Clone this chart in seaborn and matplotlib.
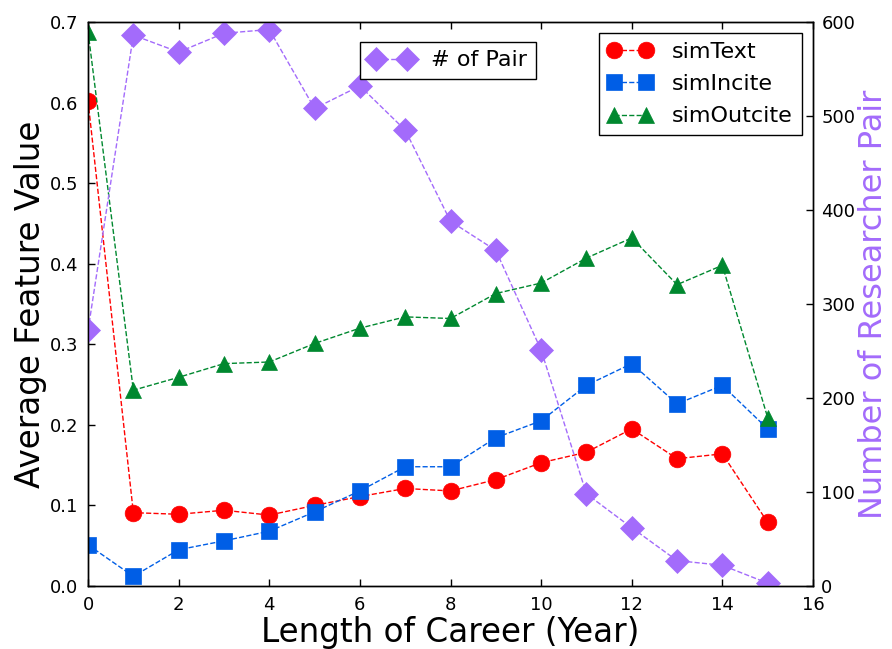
import matplotlib
matplotlib.use("Agg")
import matplotlib.pyplot as plt
import seaborn as sns
import pandas as pd

# Career length (years)
career_years = list(range(16))

# Average feature values per career length
sim_text = [0.602, 0.091, 0.089, 0.094, 0.088, 0.100, 0.111, 0.121, 0.118,
            0.132, 0.153, 0.166, 0.195, 0.158, 0.164, 0.079]
sim_incite = [0.051, 0.012, 0.045, 0.056, 0.068, 0.092, 0.118, 0.148, 0.148,
              0.184, 0.205, 0.249, 0.276, 0.226, 0.249, 0.195]
sim_outcite = [0.688, 0.243, 0.259, 0.276, 0.278, 0.301, 0.320, 0.334, 0.332,
               0.363, 0.376, 0.407, 0.432, 0.374, 0.398, 0.209]

# Number of researcher pairs per career length
pair_counts = [272, 586, 568, 588, 592, 508, 532, 485, 388, 357, 251, 98,
               62, 27, 22, 3]

feature_names = ["simText", "simIncite", "simOutcite"]
feature_colors = ["#ff0000", "#005ee6", "#00882f"]
feature_markers = ["o", "s", "^"]
pair_color = "#a36bfb"

sns.set_style("white")
plt.rcParams["font.family"] = ["DejaVu Sans"]
plt.rcParams["xtick.direction"] = "in"
plt.rcParams["ytick.direction"] = "in"
plt.rcParams["text.color"] = "black"
plt.rcParams["axes.labelcolor"] = "black"
plt.rcParams["xtick.color"] = "black"
plt.rcParams["ytick.color"] = "black"

df = pd.DataFrame({
    "year": career_years,
    "simText": sim_text,
    "simIncite": sim_incite,
    "simOutcite": sim_outcite,
    "pairs": pair_counts,
})

fig = plt.figure(figsize=(8.92, 6.49), dpi=100)
ax = fig.add_axes([0.0987, 0.0971, 0.8127, 0.869])
ax2 = ax.twinx()

for name, color, marker in zip(feature_names, feature_colors, feature_markers):
    sns.lineplot(data=df, x="year", y=name, ax=ax, color=color, marker=marker,
                 markersize=12, markeredgecolor=color, markeredgewidth=0.5,
                 linestyle="--", dashes=(6, 6), linewidth=1.0, label=name,
                 legend=False)

sns.lineplot(data=df, x="year", y="pairs", ax=ax2, color=pair_color, marker="D",
             markersize=12, markeredgecolor=pair_color, markeredgewidth=0.5,
             linestyle="--", dashes=(6, 6), linewidth=1.0, label="# of Pair",
             legend=False)

ax.set_xlim(0, 16)
ax.set_ylim(0, 0.7)
ax2.set_ylim(0, 600)
ax.set_xticks(range(0, 17, 2))
ax.set_yticks([0.0, 0.1, 0.2, 0.3, 0.4, 0.5, 0.6, 0.7])
ax2.set_yticks(range(0, 601, 100))

ax.set_xlabel("Length of Career (Year)", fontsize=23.5, labelpad=2)
ax.set_ylabel("Average Feature Value", fontsize=23.5, labelpad=2)
ax2.set_ylabel("Number of Researcher Pair", fontsize=23, color=pair_color,
               labelpad=2)

ax.tick_params(axis="x", which="major", top=True, bottom=True, length=5,
               width=1, labelsize=13, pad=7)
ax.tick_params(axis="y", which="major", left=True, right=False, length=5,
               width=1, labelsize=13, pad=7)
ax2.tick_params(axis="y", which="major", right=True, left=False, length=5,
                width=1, labelsize=13, pad=6)

for a in (ax, ax2):
    for sp in a.spines.values():
        sp.set_visible(True)
        sp.set_color("black")
        sp.set_linewidth(1.0)

h1, l1 = ax.get_legend_handles_labels()
leg1 = ax.legend(h1, l1, loc="upper right", numpoints=2, fontsize=16,
                 frameon=True, fancybox=False, edgecolor="black",
                 framealpha=1, borderaxespad=0.5, handlelength=2.0,
                 labelspacing=0.55, handletextpad=0.9, borderpad=0.4)
leg1.get_frame().set_linewidth(1.0)

h2, l2 = ax2.get_legend_handles_labels()
leg2 = ax2.legend(h2, l2, loc="upper left", bbox_to_anchor=(0.36, 0.985),
                  numpoints=2, fontsize=16, frameon=True, fancybox=False,
                  edgecolor="black", framealpha=1, handlelength=2.0,
                  handletextpad=0.8, borderpad=0.4)
leg2.get_frame().set_linewidth(1.0)

fig.savefig("out.png", dpi=100, facecolor="white")
